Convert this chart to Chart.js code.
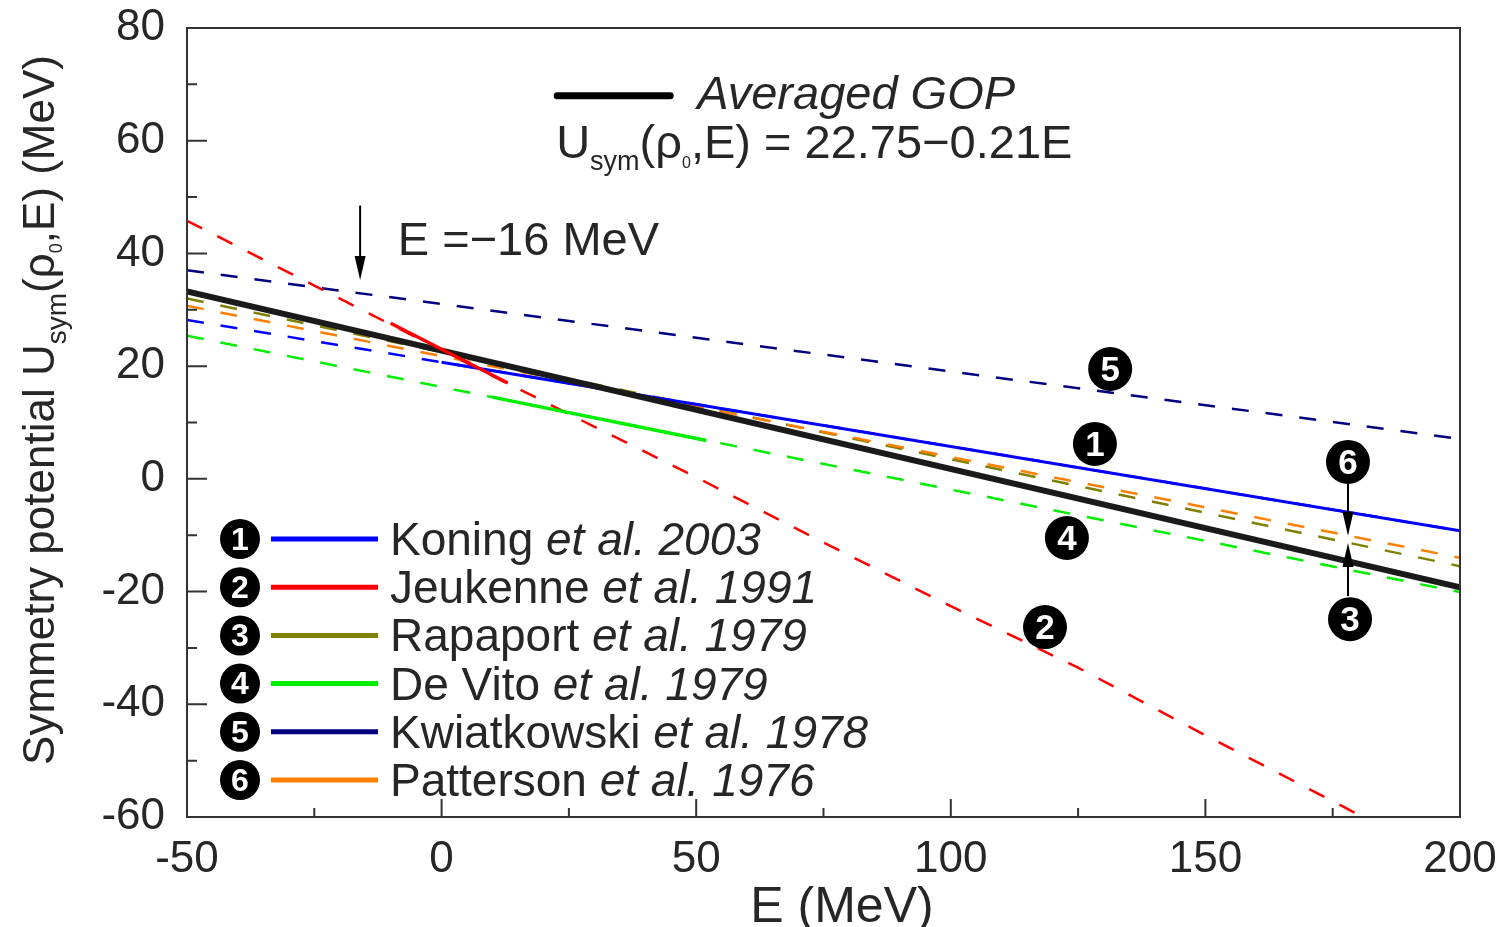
<!DOCTYPE html>
<html>
<head>
<meta charset="utf-8">
<script src="https://cdn.jsdelivr.net/npm/chart.js@4/dist/chart.umd.min.js"></script>
<style>
  html, body { margin: 0; padding: 0; background: #fff; }
</style>
</head>
<body>
<canvas id="myChart" width="1507" height="927"></canvas>
<script>
const FONT = '"Liberation Sans", Arial, Helvetica, sans-serif';
const TXT = "#262626";

// data (E in MeV, U in MeV)
const lineE = [-50, 200];
const gopU = [33.25, -19.25];

const koningE = [-50, 0, 200];
const koningU = [28.2, 20.7, -9.2];
const koningSolidE = [0, 200];
const koningSolidU = [20.7, -9.2];

const jeukenneE = [-50, -25, 0, 25, 50, 75, 100, 125, 150, 175, 200];
const jeukenneU = [45.8, 34.3, 22.8, 11.5, 0.3, -11.3, -22.6, -33.5, -45.5, -57.2, -69.0];
const jeukenneSolidE = [-10, 13];
const jeukenneSolidU = [27.6, 17.0];

const rapaportU = [32.0, -15.5];
const devitoU = [25.4, -20.1];
const devitoSolidE = [10, 52];
const devitoSolidU = [14.5, 6.8];
const kwiatU = [37.0, 7.1];
const pattersonU = [30.7, -14.0];

const legendNames = ["Koning", "Jeukenne", "Rapaport", "De Vito", "Kwiatkowski", "Patterson"];
const legendYears = ["2003", "1991", "1979", "1979", "1978", "1976"];
const legendColors = ["#0000ff", "#ff0000", "#808000", "#00ee00", "#000080", "#ff8000"];

// numbered markers on the curves
const badgeNum = [5, 1, 4, 2, 6, 3];
const badgeE = [131.3, 128.3, 122.8, 118.5, 178.0, 178.4];
const badgeU = [19.5, 6.2, -10.5, -26.3, 3.0, -24.9];

const pts = (xs, ys) => xs.map((x, i) => ({ x: x, y: ys[i] }));

function solid(data, color, w) {
  return { data: data, borderColor: color, borderWidth: w, showLine: true, pointRadius: 0, fill: false };
}
function dashed(data, color) {
  return { data: data, borderColor: color, borderWidth: 2.5, borderDash: [17, 17], showLine: true, pointRadius: 0, fill: false };
}

function drawRich(ctx, x, y, segs) {
  let cx = x;
  segs.forEach((s) => {
    ctx.font = (s.italic ? "italic " : "") + s.size + "px " + FONT;
    ctx.fillText(s.t, cx, y + (s.dy || 0));
    cx += ctx.measureText(s.t).width;
  });
  return cx - x;
}
function richWidth(ctx, segs) {
  let w = 0;
  segs.forEach((s) => {
    ctx.font = (s.italic ? "italic " : "") + s.size + "px " + FONT;
    w += ctx.measureText(s.t).width;
  });
  return w;
}

function badge(ctx, x, y, n, r) {
  ctx.beginPath();
  ctx.arc(x, y, r, 0, Math.PI * 2);
  ctx.fillStyle = "#000";
  ctx.fill();
  ctx.fillStyle = "#fff";
  ctx.font = "bold " + Math.round(r * 1.6) + "px " + FONT;
  ctx.textAlign = "center";
  ctx.textBaseline = "middle";
  ctx.fillText(String(n), x, y + 2);
}

function arrow(ctx, x, y1, y2) {
  const dir = y2 > y1 ? 1 : -1;
  ctx.strokeStyle = "#000";
  ctx.lineWidth = 2;
  ctx.beginPath();
  ctx.moveTo(x, y1);
  ctx.lineTo(x, y2 - dir * 14);
  ctx.stroke();
  ctx.beginPath();
  ctx.moveTo(x, y2);
  ctx.lineTo(x - 5.5, y2 - dir * 24);
  ctx.lineTo(x + 5.5, y2 - dir * 24);
  ctx.closePath();
  ctx.fillStyle = "#000";
  ctx.fill();
}

const decor = {
  id: "decor",
  afterDraw(chart) {
    const ctx = chart.ctx;
    const a = chart.chartArea;
    const xs = chart.scales.x, ys = chart.scales.y;
    const px = (v) => xs.getPixelForValue(v);
    const py = (v) => ys.getPixelForValue(v);
    ctx.save();

    // frame
    ctx.strokeStyle = "#333";
    ctx.lineWidth = 2;
    ctx.strokeRect(a.left, a.top, a.right - a.left, a.bottom - a.top);

    // inward ticks
    ctx.lineWidth = 2;
    ctx.beginPath();
    for (let e = -50; e <= 200; e += 25) {
      const len = e % 50 === 0 ? 18 : 9;
      ctx.moveTo(px(e), a.bottom);
      ctx.lineTo(px(e), a.bottom - len);
    }
    for (let u = -60; u <= 80; u += 10) {
      const len = u % 20 === 0 ? 20 : 10;
      ctx.moveTo(a.left, py(u));
      ctx.lineTo(a.left + len, py(u));
    }
    ctx.stroke();

    // numbered markers
    badgeNum.forEach((n, i) => badge(ctx, px(badgeE[i]), py(badgeU[i]), n, 22));

    // arrows
    arrow(ctx, px(-16), py(48.5), py(35.3));
    arrow(ctx, px(178), py(-0.9), py(-10.1));
    arrow(ctx, px(178), py(-20.8), py(-11.4));

    ctx.fillStyle = TXT;
    ctx.textAlign = "left";
    ctx.textBaseline = "alphabetic";
    drawRich(ctx, px(-8.6), py(42.6) + 16, [{ t: "E =\u221216 MeV", size: 47 }]);

    // averaged GOP key
    ctx.strokeStyle = "#000";
    ctx.lineWidth = 7;
    ctx.lineCap = "round";
    ctx.beginPath();
    ctx.moveTo(px(22.7), py(68.0));
    ctx.lineTo(px(44.9), py(68.0));
    ctx.stroke();
    ctx.lineCap = "butt";
    ctx.fillStyle = TXT;
    drawRich(ctx, px(50.2), py(68.4) + 16, [{ t: "Averaged GOP", size: 47, italic: true }]);
    drawRich(ctx, px(22.5), py(57.0), [
      { t: "U", size: 47 },
      { t: "sym", size: 27, dy: 12 },
      { t: "(\u03c1", size: 47 },
      { t: "0", size: 16, dy: 10 },
      { t: ",E) = 22.75\u22120.21E", size: 47 }
    ]);

    // legend
    legendNames.forEach((name, i) => {
      const y = a.top + 511 + i * 48.2;
      badge(ctx, a.left + 53, y, i + 1, 20);
      ctx.strokeStyle = legendColors[i];
      ctx.lineWidth = 5;
      ctx.beginPath();
      ctx.moveTo(a.left + 84, y);
      ctx.lineTo(a.left + 191, y);
      ctx.stroke();
      ctx.fillStyle = TXT;
      ctx.textAlign = "left";
      ctx.textBaseline = "alphabetic";
      drawRich(ctx, a.left + 203, y + 16, [
        { t: name + " ", size: 46 },
        { t: "et al. " + legendYears[i], size: 46, italic: true }
      ]);
    });

    // axis titles
    ctx.fillStyle = TXT;
    ctx.textAlign = "center";
    ctx.font = "50px " + FONT;
    ctx.fillText("E (MeV)", 842, 922);

    const ySegs = [
      { t: "Symmetry potential U", size: 44 },
      { t: "sym", size: 28, dy: 12 },
      { t: "(\u03c1", size: 44 },
      { t: "0", size: 18, dy: 8 },
      { t: ",E) (MeV)", size: 44 }
    ];
    ctx.textAlign = "left";
    ctx.translate(54, 410);
    ctx.rotate(-Math.PI / 2);
    drawRich(ctx, -richWidth(ctx, ySegs) / 2, 0, ySegs);
    ctx.restore();
  }
};

new Chart(document.getElementById("myChart"), {
  type: "scatter",
  data: {
    datasets: [
      solid(pts(jeukenneSolidE, jeukenneSolidU), "#ff0000", 3.5),
      solid(pts(lineE, gopU), "#1a1a1a", 6),
      solid(pts(devitoSolidE, devitoSolidU), "#00ee00", 3.5),
      solid(pts(koningSolidE, koningSolidU), "#0000ff", 3),
      dashed(pts(lineE, pattersonU), "#ff8000"),
      dashed(pts(lineE, rapaportU), "#808000"),
      dashed(pts(koningE, koningU), "#0000ff"),
      dashed(pts(lineE, devitoU), "#00ee00"),
      dashed(pts(jeukenneE, jeukenneU), "#ff0000"),
      dashed(pts(lineE, kwiatU), "#000080")
    ]
  },
  options: {
    responsive: false,
    animation: false,
    layout: { padding: { top: 28, right: 47, left: 0, bottom: 0 } },
    plugins: { legend: { display: false }, tooltip: { enabled: false } },
    scales: {
      x: {
        type: "linear",
        min: -50,
        max: 200,
        afterFit: (s) => { s.height = 110; s.paddingLeft = 0; s.paddingRight = 0; },
        grid: { display: false, drawTicks: false },
        border: { display: false },
        ticks: {
          stepSize: 50,
          padding: 16,
          color: TXT,
          font: { size: 44, family: FONT }
        }
      },
      y: {
        min: -60,
        max: 80,
        afterFit: (s) => { s.width = 187; s.paddingTop = 0; s.paddingBottom = 0; },
        grid: { display: false, drawTicks: false },
        border: { display: false },
        ticks: {
          stepSize: 20,
          padding: 22,
          color: TXT,
          font: { size: 44, family: FONT }
        }
      }
    }
  },
  plugins: [decor]
});
</script>
</body>
</html>
